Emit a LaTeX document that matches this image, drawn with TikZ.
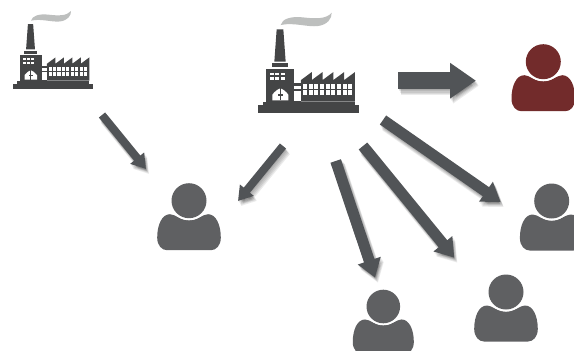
\documentclass[tikz,border=0pt]{standalone}
\usetikzlibrary{arrows.meta}
\definecolor{fac}{HTML}{444546}
\definecolor{smoke}{HTML}{BDBFBE}
\definecolor{pgrey}{HTML}{5F6062}
\definecolor{pred}{HTML}{722B2B}
\definecolor{arr}{HTML}{515457}
\tikzset{
  x=1pt,y=-1pt,
  pics/person/.style={code={
    \fill[#1] (-19,13.5) .. controls (-14,13.5) and (-9,19.5) .. (0,19.5)
      .. controls (9,19.5) and (14,13.5) .. (19,13.5)
      .. controls (27,13.5) and (31.8,24) .. (31.8,37)
      .. controls (31.8,45) and (27,49.5) .. (22,49.5)
      -- (-22,49.5) .. controls (-27,49.5) and (-31.8,45) .. (-31.8,37)
      .. controls (-31.8,24) and (-27,13.5) .. (-19,13.5) -- cycle;
    \fill[white] (0,0) circle (19.6);
    \fill[#1] (0,0) circle (17.5);
  }},
  pics/factory/.style={code={
    % drawn in units with origin at the bottom left of the base
    \fill[smoke] (68,-263) .. controls (72,-282) and (100,-290) .. (135,-286)
      .. controls (170,-282) and (205,-280) .. (221,-300)
      .. controls (222,-282) and (208,-264) .. (180,-260)
      .. controls (150,-256) and (105,-272) .. (68,-263) -- cycle;
    \fill[fac] (0,-22) rectangle (304,0);
    \fill[fac] (16,-33) rectangle (291,-22);
    \fill[fac] (56,-250) -- (76,-250) -- (83,-153) -- (49,-153) -- cycle;
    \fill[fac] (42,-148) rectangle (91,-136);
    \fill[fac] (24,-130) rectangle (109,-33);
    \fill[fac] (109,-88) rectangle (129,-33);
    \fill[fac] (129,-33) -- (129,-98)
      \foreach \k in {0,1,2,3,4} { -- ({129+32.4*\k+32.4},-122) -- ({129+32.4*\k+32.4},-98) }
      -- (291,-33) -- cycle;
    \foreach \c in {0,1,2}\foreach \r in {0,1}
      \fill[white] ({36+\c*16},{-120+\r*14}) rectangle ++(12,8);
    \fill[white] (43,-37) -- (43,-54) .. controls (50,-64) and (60,-71) .. (67,-73)
      .. controls (74,-71) and (84,-64) .. (91,-54) -- (91,-37) -- cycle;
    \fill[fac] (65.5,-73) rectangle (68.5,-37);
    \fill[fac] (60,-56) rectangle (74,-51);
    \fill[white] (109,-65) rectangle (129,-36);
    \fill[white] (109,-80) rectangle (129,-70);
    \foreach \c in {0,...,8}\foreach \r in {0,1}
      \fill[white] ({135+\c*17},{-86+\r*19}) rectangle ++(12,15);
  }},
}
\newcommand{\blockarrow}[5]{% from, to, shaft, head width, head length
  \foreach \dx/\dy/\w in {3/5/2,2.5/4/1.5,2/3/1,1.2/2/.5,.5/1/0}{
    \draw[black,opacity=.08,line width={#3+\w},-{Triangle[width=#4,length=#5]}]
      ([shift={(\dx,\dy)}]#1) -- ([shift={(\dx,\dy)}]#2);
  }
  \draw[arr,line width=#3,-{Triangle[width=#4,length=#5]}] (#1) -- (#2);
}
\begin{document}
\begin{tikzpicture}
\useasboundingbox (0,0) rectangle (574,351);
\clip (0,0) rectangle (574,351);
\pic[scale=.261] at (13.3,89.3) {factory};
\pic[scale=.3333] at (258,112.7) {factory};
\coordinate (pr) at (543.3,61.7);
\coordinate (p1) at (189,200.7);
\coordinate (p2) at (383.3,306.5);
\coordinate (p3) at (506,292);
\coordinate (p4) at (551.7,201);
\pic at (pr) {person=pred};
\pic at (p1) {person=pgrey};
\pic[scale=.96] at (p2) {person=pgrey};
\pic at (p3) {person=pgrey};
\pic at (p4) {person=pgrey};
\coordinate (a0s) at (398,80.7);
\coordinate (a0e) at (476,80.7);
\coordinate (a1s) at (102,115);
\coordinate (a1e) at (146,169);
\coordinate (a2s) at (283,146);
\coordinate (a2e) at (238,201);
\coordinate (a3s) at (335.7,161);
\coordinate (a3e) at (375,277.7);
\coordinate (a4s) at (363,146);
\coordinate (a4e) at (454.3,257.7);
\coordinate (a5s) at (383,120);
\coordinate (a5e) at (500.7,202);
\blockarrow{a0s}{a0e}{17pt}{34pt}{26pt}
\blockarrow{a1s}{a1e}{8pt}{17pt}{14pt}
\blockarrow{a2s}{a2e}{8pt}{17pt}{14pt}
\blockarrow{a3s}{a3e}{11pt}{23pt}{18pt}
\blockarrow{a4s}{a4e}{11pt}{23pt}{18pt}
\blockarrow{a5s}{a5e}{11pt}{23pt}{18pt}
\end{tikzpicture}
\end{document}
